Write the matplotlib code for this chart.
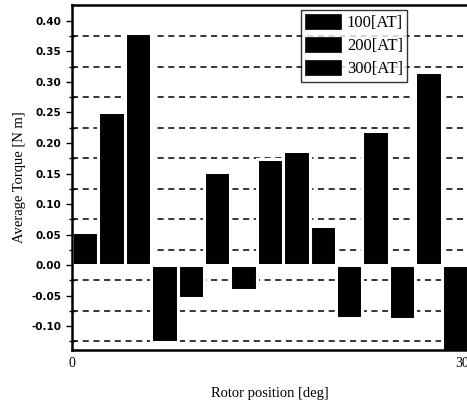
import matplotlib
matplotlib.use("Agg")
import matplotlib.pyplot as plt
import matplotlib.transforms as mtransforms
import numpy as np

positions = [1, 3, 5, 7, 9, 11, 13, 15, 17, 19, 21, 23, 25, 27, 29]
torque = [0.055, 0.25, 0.38, -0.126, -0.054, 0.152, -0.041, 0.174, 0.187,
          0.064, -0.087, 0.22, -0.089, 0.316, -0.15]
series_labels = ["100[AT]", "200[AT]", "300[AT]"]
yticks = [-0.10, -0.05, 0.00, 0.05, 0.10, 0.15, 0.20, 0.25, 0.30, 0.35, 0.40]
grid_levels = [-0.125, -0.075, -0.025, 0.025, 0.075, 0.125, 0.175, 0.225, 0.275, 0.325, 0.375]

serif = ["Liberation Serif", "DejaVu Serif"]

fig = plt.figure(figsize=(4.67, 4.08), dpi=100)
ax = fig.add_axes([72/467, 1-350/408, 396/467, 345/408])

for g in grid_levels:
    ax.axhline(g, color="black", lw=1.1, ls=(0, (4, 3)), zorder=1)
ax.axhline(0, color="black", lw=1.0, zorder=1)

for i, s in enumerate(series_labels):
    xs = positions[i::3]
    ys = torque[i::3]
    ax.bar(xs, ys, width=2.0, color="black", edgecolor="white", linewidth=2.2,
           label=s, zorder=2)

ax.set_xlim(0, 30)
ax.set_ylim(-0.139, 0.426)
ax.set_yticks(yticks)
ax.set_yticklabels([f"{v:.2f}" for v in yticks])
ax.set_yticks(grid_levels, minor=True)
ax.set_xticks([0, 30])
ax.set_xticklabels(["0", "30"])
ax.tick_params(axis="y", which="major", direction="out", length=4, width=1,
               labelsize=7.5)
ax.tick_params(axis="y", which="minor", direction="inout", length=5, width=1)
ax.tick_params(axis="x", which="major", direction="out", length=0, pad=5,
               labelsize=10)
for lab in ax.get_xticklabels():
    lab.set_fontfamily(serif)
xl = ax.get_xticklabels()
xl[1].set_transform(xl[1].get_transform() +
                    mtransforms.ScaledTranslation(-6/100, 0, fig.dpi_scale_trans))
for lab in ax.get_yticklabels():
    lab.set_fontweight("bold")

for sp in ["left", "bottom", "top"]:
    ax.spines[sp].set_linewidth(1.8)
ax.spines["right"].set_visible(False)

ax.set_xlabel("Rotor position [deg]", family=serif, fontsize=10.5, labelpad=12)
ax.set_ylabel("Average Torque [N m]", family=serif, fontsize=10.5, labelpad=4)

leg = ax.legend(loc="upper left", bbox_to_anchor=((301-72)/396, (345-5)/345),
                prop={"family": serif, "size": 12}, frameon=True, fancybox=False,
                edgecolor="black", handlelength=2.15, handleheight=1.0,
                borderpad=0.25, labelspacing=0.35, handletextpad=0.35,
                borderaxespad=0)
leg.get_frame().set_linewidth(1.0)
for h in leg.legend_handles:
    h.set_edgecolor("black")
    h.set_linewidth(0.5)

fig.savefig("out.png", dpi=100)
